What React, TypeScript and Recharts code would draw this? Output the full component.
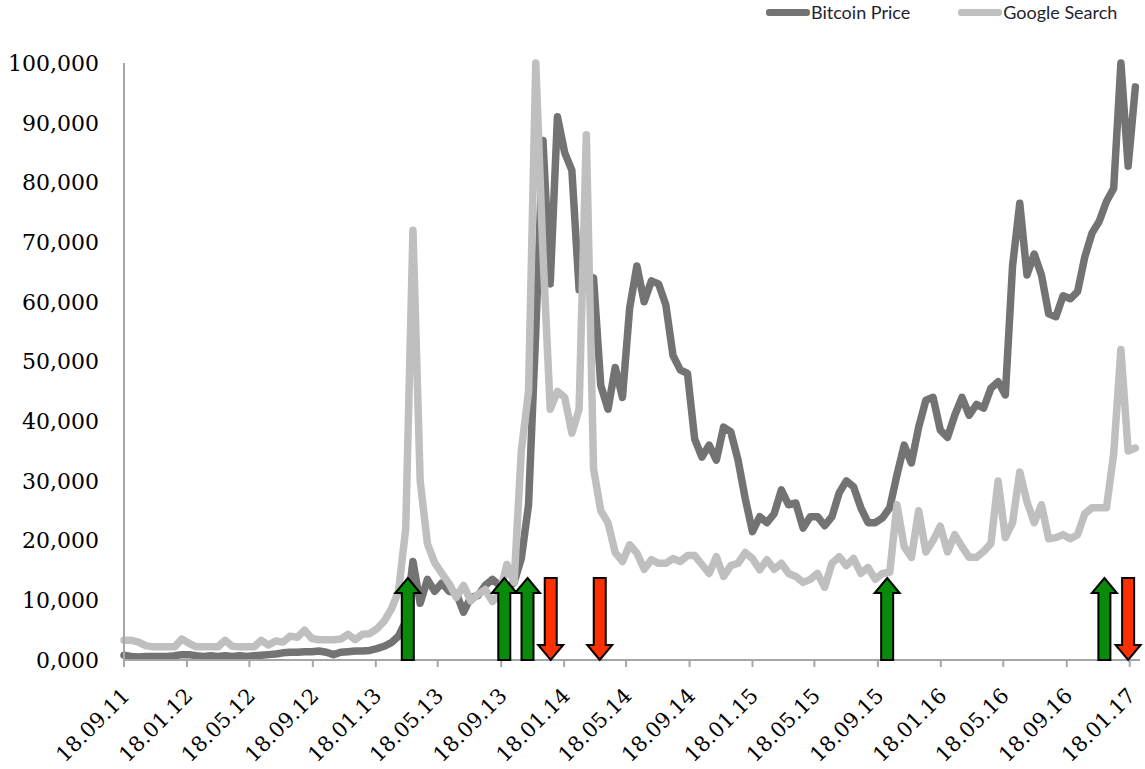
import { ComposedChart, Line, XAxis, YAxis, Legend, ReferenceDot } from "recharts";

// samples every 2 weeks, starting 18.09.11
const startLabel = "18.09.11";
const stepDays = 14;

// values in thousands (index units of the chart)
const bitcoinPrice = [
  0.8, 0.6, 0.5, 0.6, 0.6, 0.6, 0.6, 0.7, 0.9, 0.9,
  0.7, 0.6, 0.7, 0.6, 0.7, 0.6, 0.7, 0.6, 0.7, 0.8,
  0.9, 1.0, 1.2, 1.3, 1.3, 1.4, 1.4, 1.5, 1.3, 0.9,
  1.3, 1.4, 1.5, 1.5, 1.6, 1.9, 2.3, 2.9, 4.0, 6.5,
  16.5, 9.5, 13.5, 11.5, 12.9, 11.5, 11.2, 8.0, 10.5, 10.8,
  12.5, 13.5, 12.5, 11.9, 13.0, 17.0, 26.0, 55.0, 87.0, 63.0,
  91.0, 85.0, 82.0, 62.0, 63.0, 64.0, 46.0, 42.0, 49.0, 44.0,
  59.0, 66.0, 60.0, 63.5, 63.0, 59.5, 51.0, 48.6, 48.0, 37.0,
  34.0, 36.0, 33.5, 39.0, 38.2, 33.5, 27.0, 21.5, 24.0, 23.0,
  24.5, 28.5, 26.0, 26.3, 22.1, 24.0, 24.0, 22.5, 24.0, 28.0,
  30.0, 29.0, 25.5, 23.0, 23.0, 23.8, 25.5, 31.0, 36.0, 33.0,
  39.0, 43.5, 44.0, 38.5, 37.3, 41.0, 44.0, 41.0, 42.8, 42.2,
  45.5, 46.6, 44.4, 66.0, 76.5, 64.5, 68.0, 64.5, 58.0, 57.5,
  61.0, 60.5, 61.7, 67.5, 71.5, 73.5, 76.8, 79.0, 100.0, 82.7,
  96.0,
];

const googleSearch = [
  3.3, 3.3, 3.0, 2.4, 2.2, 2.2, 2.2, 2.2, 3.5, 2.8,
  2.2, 2.2, 2.2, 2.2, 3.3, 2.3, 2.2, 2.2, 2.2, 3.3,
  2.5, 3.2, 3.0, 4.0, 3.8, 5.0, 3.6, 3.4, 3.4, 3.4,
  3.5, 4.3, 3.4, 4.3, 4.4, 5.2, 6.5, 8.5, 11.5, 22.0,
  72.0, 30.0, 19.5, 16.3, 14.5, 12.8, 10.5, 12.5, 9.9, 11.0,
  11.8, 9.8, 11.0, 16.0, 13.0, 35.0, 45.0, 100.0, 68.0, 42.0,
  45.0, 44.0, 38.0, 42.0, 88.0, 32.0, 25.0, 23.0, 18.0, 16.5,
  19.3, 17.9, 15.2, 16.8, 16.2, 16.2, 17.0, 16.5, 17.5, 17.5,
  16.0, 14.5, 17.3, 14.0, 15.8, 16.2, 18.0, 17.0, 15.1, 16.8,
  15.2, 16.2, 14.5, 14.0, 13.0, 13.5, 14.5, 12.2, 16.2, 17.3,
  15.8, 17.0, 14.5, 15.5, 13.5, 14.5, 14.7, 26.0, 19.0, 17.2,
  25.0, 18.1, 20.0, 22.4, 18.1, 21.0, 19.0, 17.2, 17.2, 18.2,
  19.5, 30.0, 20.5, 23.0, 31.5, 26.5, 23.0, 26.0, 20.3, 20.5,
  21.0, 20.3, 21.0, 24.5, 25.5, 25.5, 25.5, 34.5, 52.0, 35.0,
  35.5,
];

const xTickLabels = [
  "18.09.11", "18.01.12", "18.05.12", "18.09.12", "18.01.13", "18.05.13",
  "18.09.13", "18.01.14", "18.05.14", "18.09.14", "18.01.15", "18.05.15",
  "18.09.15", "18.01.16", "18.05.16", "18.09.16", "18.01.17",
];
const yTicks = [0, 10000, 20000, 30000, 40000, 50000, 60000, 70000, 80000, 90000, 100000];

// buy / sell signals
const signalDates = ["21.03.13", "24.09.13", "08.11.13", "23.12.13", "28.03.14", "06.10.15", "30.11.16", "15.01.17"];
const signalDirs = ["up", "up", "up", "down", "down", "up", "up", "down"];

const legendItems = [
  { name: "Bitcoin Price", color: "#737373" },
  { name: "Google Search", color: "#bfbfbf" },
];

const DAY = 24 * 3600 * 1000;
const parseDate = (s: string) => {
  const [d, m, y] = s.split(".").map(Number);
  return Date.UTC(2000 + y, m - 1, d);
};
const START = parseDate(startLabel);
const END = START + 1969 * DAY;

const rows = bitcoinPrice.map((v, i) => ({
  t: START + i * stepDays * DAY,
  bitcoin: v * 1000,
  google: googleSearch[i] * 1000,
}));
const xTicks = xTickLabels.map(parseDate);
const labelOf = (t: number) => xTickLabels[xTicks.indexOf(t)] ?? "";

const fmtY = (v: number) => (v === 0 ? "0,000" : v.toLocaleString("en-US"));

const DateTick = (props: any) => {
  const { x, y, payload } = props;
  return (
    <text
      transform={`translate(${x + 7},${y + 28}) rotate(-45)`}
      textAnchor="end"
      fontFamily="DejaVu Serif"
      fontSize={21}
      fill="#000"
    >
      {labelOf(payload.value)}
    </text>
  );
};

const Arrow = (props: any) => {
  const { cx, cy, dir } = props;
  const h = 82, head = 15, hw = 12.5, sw = 6;
  let pts;
  if (dir === "up") {
    const tip = cy - h;
    pts = [
      [cx, tip], [cx + hw, tip + head], [cx + sw, tip + head], [cx + sw, cy],
      [cx - sw, cy], [cx - sw, tip + head], [cx - hw, tip + head],
    ];
  } else {
    const top = cy - h;
    pts = [
      [cx - sw, top], [cx + sw, top], [cx + sw, cy - head], [cx + hw, cy - head],
      [cx, cy], [cx - hw, cy - head], [cx - sw, cy - head],
    ];
  }
  return (
    <polygon
      points={pts.map((p) => p.join(",")).join(" ")}
      fill={dir === "up" ? "#0a8a0a" : "#ff3000"}
      stroke="#000"
      strokeWidth={2}
      strokeLinejoin="miter"
    />
  );
};

const renderLegend = () => (
  <div style={{ display: "flex", fontFamily: "Lato", fontSize: 18, color: "#1f2330", lineHeight: "22px" }}>
    {legendItems.map((it, i) => (
      <div key={it.name} style={{ display: "flex", alignItems: "center", marginRight: i === 0 ? 48 : 0 }}>
        <span style={{ display: "inline-block", width: 44, height: 7, borderRadius: 3, background: it.color, marginRight: 1 }} />
        <span>{it.name}</span>
      </div>
    ))}
  </div>
);

export default function App() {
  return (
    <div style={{ position: "absolute", left: 0, top: 0 }}>
      <ComposedChart
        width={1145}
        height={769}
        data={rows}
        margin={{ top: 63, right: 5, left: 0, bottom: 0 }}
      >
        <XAxis
          dataKey="t"
          type="number"
          domain={[START, END]}
          ticks={xTicks}
          interval={0}
          height={109}
          tick={<DateTick />}
          tickSize={7}
          axisLine={{ stroke: "#a6a6a6", strokeWidth: 2 }}
          tickLine={{ stroke: "#a6a6a6", strokeWidth: 2 }}
        />
        <YAxis
          domain={[0, 100000]}
          ticks={yTicks}
          interval={0}
          width={124}
          tickFormatter={fmtY}
          tickLine={false}
          tickSize={0}
          tickMargin={25}
          axisLine={{ stroke: "#a6a6a6", strokeWidth: 2 }}
          tick={{ fontFamily: "DejaVu Serif", fontSize: 22, fill: "#000" }}
        />
        <Legend
          layout="horizontal"
          verticalAlign="middle"
          align="center"
          content={renderLegend}
          wrapperStyle={{ top: 1, left: 766, width: 379 }}
        />
        <Line
          dataKey="bitcoin"
          stroke="#737373"
          strokeWidth={7.5}
          dot={false}
          strokeLinejoin="round"
          strokeLinecap="round"
          isAnimationActive={false}
        />
        <Line
          dataKey="google"
          stroke="#bfbfbf"
          strokeWidth={7.5}
          dot={false}
          strokeLinejoin="round"
          strokeLinecap="round"
          isAnimationActive={false}
        />
        {signalDates.map((d, i) => (
          <ReferenceDot
            key={d}
            x={parseDate(d)}
            y={0}
            r={0}
            ifOverflow="visible"
            shape={(p: any) => <Arrow {...p} dir={signalDirs[i]} />}
          />
        ))}
      </ComposedChart>
    </div>
  );
}
